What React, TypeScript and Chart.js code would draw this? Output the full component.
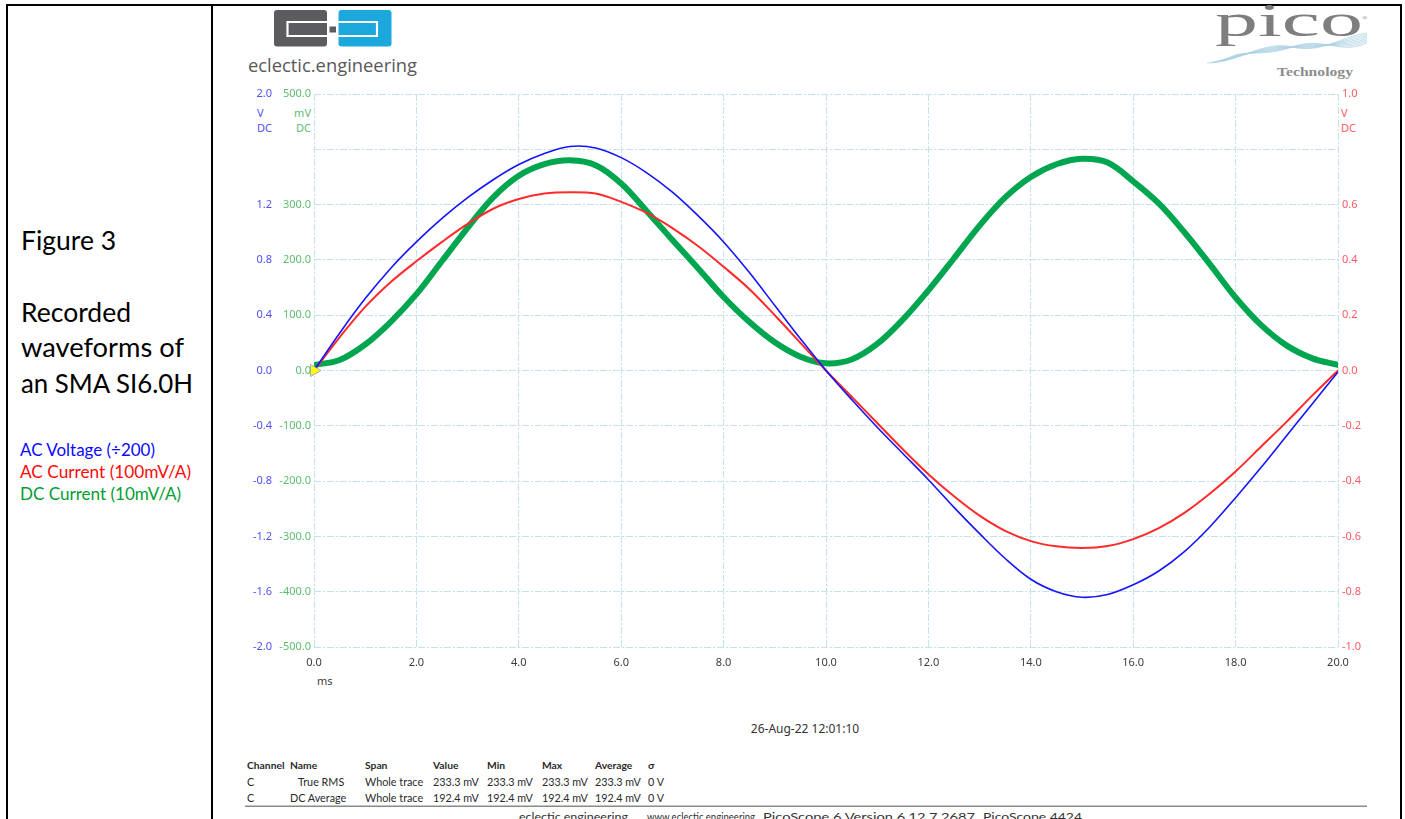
import React, { useEffect, useRef } from 'react';
import { Chart, registerables } from 'chart.js';

Chart.register(...registerables);

// ---- data (time in ms) ----
const timeMs = [0, 0.5, 1, 1.5, 2, 2.5, 3, 3.5, 4, 4.5, 5, 5.5, 6, 6.5, 7, 7.5, 8, 8.5, 9, 9.5, 10,
  10.5, 11, 11.5, 12, 12.5, 13, 13.5, 14, 14.5, 15, 15.5, 16, 16.5, 17, 17.5, 18, 18.5, 19, 19.5, 20];

// AC Voltage (÷200), volts, left outer axis
const acVoltage = [0.0, 0.27, 0.52, 0.74, 0.93, 1.1, 1.25, 1.38, 1.49, 1.57, 1.62, 1.61, 1.54, 1.43, 1.29, 1.12, 0.93, 0.71, 0.47, 0.23, 0.0,
  -0.21, -0.41, -0.6, -0.79, -0.99, -1.18, -1.36, -1.51, -1.6, -1.64, -1.62, -1.55, -1.45, -1.31, -1.13, -0.92, -0.7, -0.47, -0.24, -0.01];

// AC Current (100mV/A), volts, right axis
const acCurrent = [0.0, 0.12, 0.23, 0.32, 0.395, 0.465, 0.53, 0.585, 0.62, 0.64, 0.645, 0.64, 0.61, 0.57, 0.515, 0.45, 0.375, 0.295, 0.2, 0.1, 0.0,
  -0.095, -0.19, -0.285, -0.375, -0.455, -0.525, -0.58, -0.617, -0.636, -0.642, -0.635, -0.61, -0.57, -0.515, -0.445, -0.365, -0.275, -0.185, -0.09, 0.0];

// DC Current (10mV/A), millivolts, left inner axis
const dcCurrent = [10, 19, 47, 88, 138, 198, 258, 313, 352, 373, 380, 371, 338, 288, 236, 185, 133, 88, 51, 25, 13,
  20, 48, 92, 145, 203, 262, 313, 350, 373, 383, 376, 342, 302, 250, 192, 132, 82, 45, 22, 10];

const triggerTime = [0];
const triggerLevel = [0];

// ---- axis ticks ----
const timeTicks = [0, 2, 4, 6, 8, 10, 12, 14, 16, 18, 20];
const voltTicks = [-2.0, -1.6, -1.2, -0.8, -0.4, 0.0, 0.4, 0.8, 1.2, 1.6, 2.0];
const milliVoltTicks = [-500, -400, -300, -200, -100, 0, 100, 200, 300, 400, 500];
const currentTicks = [-1.0, -0.8, -0.6, -0.4, -0.2, 0.0, 0.2, 0.4, 0.6, 0.8, 1.0];
const unlabeledVolt = 1.6;
const unlabeledMilliVolt = 400;
const unlabeledCurrent = 0.8;

// ---- measurement table ----
const tableHeader = ['Channel', 'Name', 'Span', 'Value', 'Min', 'Max', 'Average', 'σ'];
const tableRows = [
  ['C', 'True RMS', 'Whole trace', '233.3 mV', '233.3 mV', '233.3 mV', '233.3 mV', '0 V'],
  ['C', 'DC Average', 'Whole trace', '192.4 mV', '192.4 mV', '192.4 mV', '192.4 mV', '0 V'],
];
const footerItems = ['eclectic.engineering', 'www.eclectic.engineering', 'PicoScope 6 Version 6.12.7.2687', 'PicoScope 4424'];

const BLUE_AXIS = '#5050f6';
const GREEN_AXIS = '#5dbd6e';
const RED_AXIS = '#ff5a64';
const GRID = '#c4e2eb';
const UI_FONT = '"Noto Sans", "Open Sans", sans-serif';
const TABLE_FONT = 'Lato, "Noto Sans", sans-serif';

function ScopeChart() {
  const ref = useRef<HTMLCanvasElement>(null);
  useEffect(() => {
    const canvas = ref.current;
    if (!canvas) return;
    const dash = [7, 2, 2, 2];
    const tickFont = { family: UI_FONT, size: 11 };
    const setTicks = (list: number[]) => (scale: any) => {
      scale.ticks = list.map((v) => ({ value: v }));
    };
    const fmt = (skip: number | null) => (v: any) =>
      skip !== null && Math.abs(Number(v) - skip) < 1e-9 ? '' : Number(v).toFixed(1);
    const pts = (ys: number[]) => timeMs.map((t, i) => ({ x: t, y: ys[i] }));

    const chart = new Chart(canvas, {
      type: 'line',
      data: {
        datasets: [
          {
            label: 'DC Current',
            data: pts(dcCurrent),
            yAxisID: 'yG',
            borderColor: '#00a64f',
            borderWidth: 6,
            pointRadius: 0,
            tension: 0.35,
            borderCapStyle: 'round',
            borderJoinStyle: 'round',
            order: 3,
          },
          {
            label: 'AC Current',
            data: pts(acCurrent),
            yAxisID: 'yR',
            borderColor: '#ff2a2a',
            borderWidth: 2,
            pointRadius: 0,
            tension: 0.35,
            order: 2,
          },
          {
            label: 'AC Voltage',
            data: pts(acVoltage),
            yAxisID: 'yV',
            borderColor: '#1414ff',
            borderWidth: 1.6,
            pointRadius: 0,
            tension: 0.35,
            order: 1,
          },
          {
            label: 'Trigger',
            data: triggerTime.map((t, i) => ({ x: t, y: triggerLevel[i] })),
            yAxisID: 'yV',
            showLine: false,
            pointStyle: 'triangle',
            rotation: 90,
            pointRadius: 7,
            pointBackgroundColor: '#ffff00',
            pointBorderColor: 'rgba(130,130,255,0.7)',
            pointBorderWidth: 1,
            clip: false,
            order: 0,
          } as any,
        ],
      },
      options: {
        responsive: false,
        maintainAspectRatio: false,
        animation: false,
        layout: { padding: { top: 22, bottom: 10, left: 0, right: 0 } },
        plugins: { legend: { display: false }, tooltip: { enabled: false } },
        scales: {
          x: {
            type: 'linear',
            min: 0,
            max: 20,
            afterBuildTicks: setTicks(timeTicks),
            afterFit: (s: any) => { s.height = 30; },
            ticks: { callback: fmt(null), color: '#3c3c3c', font: tickFont, padding: 9, maxRotation: 0, autoSkip: false },
            grid: { color: GRID, lineWidth: 1, drawTicks: false },
            border: { display: false, dash },
          },
          yV: {
            type: 'linear',
            position: 'left',
            weight: 10,
            min: -2,
            max: 2,
            afterBuildTicks: setTicks(voltTicks),
            afterFit: (s: any) => { s.width = 60; },
            ticks: { callback: fmt(unlabeledVolt), color: BLUE_AXIS, font: tickFont, padding: 2, autoSkip: false },
            grid: { color: GRID, lineWidth: 1, drawTicks: false },
            border: { display: false, dash },
          },
          yG: {
            type: 'linear',
            position: 'left',
            weight: 5,
            min: -500,
            max: 500,
            afterBuildTicks: setTicks(milliVoltTicks),
            afterFit: (s: any) => { s.width = 40; },
            ticks: { callback: fmt(unlabeledMilliVolt), color: GREEN_AXIS, font: tickFont, padding: 3, autoSkip: false },
            grid: { display: false, drawTicks: false },
            border: { display: false },
          },
          yR: {
            type: 'linear',
            position: 'right',
            min: -1,
            max: 1,
            afterBuildTicks: setTicks(currentTicks),
            afterFit: (s: any) => { s.width = 49; },
            ticks: { callback: fmt(unlabeledCurrent), color: RED_AXIS, font: tickFont, padding: 4, autoSkip: false },
            grid: { display: false, drawTicks: false },
            border: { display: false },
          },
        },
      } as any,
    });
    return () => chart.destroy();
  }, []);
  return (
    <canvas
      ref={ref}
      width={1173}
      height={615}
      style={{ position: 'absolute', left: 214, top: 72, width: 1173, height: 615 }}
    />
  );
}

const waveLines = [0, 1, 2, 3, 4, 5, 6, 7];

function Overlay() {
  const colX = [247, 290, 365, 433, 487, 542, 595, 648];
  const nameX = [298, 290];
  const footerX = [519, 647, 763, 983];
  const footerW = [109, 108, 212, 99];
  return (
    <svg width={1405} height={819} style={{ position: 'absolute', left: 0, top: 0 }}>
      {/* table borders */}
      <rect x={6} y={4} width={1396} height={2} fill="#000" />
      <rect x={6} y={4} width={2} height={815} fill="#000" />
      <rect x={211} y={4} width={2} height={815} fill="#000" />
      <rect x={1400} y={4} width={2} height={815} fill="#000" />

      {/* left caption */}
      <g fontFamily="Lato, 'Open Sans', sans-serif" fill="#000">
        <text x={21} y={250} fontSize={26.5}>Figure 3</text>
        <text x={21} y={322} fontSize={26.5}>Recorded</text>
        <text x={21} y={357} fontSize={26.5} textLength={163} lengthAdjust="spacingAndGlyphs">waveforms of</text>
        <text x={21} y={393} fontSize={26.5} textLength={172} lengthAdjust="spacingAndGlyphs">an SMA SI6.0H</text>
        <text x={20} y={456} fontSize={17} fill="#0a0aff" textLength={135} lengthAdjust="spacingAndGlyphs">AC Voltage (÷200)</text>
        <text x={20} y={478} fontSize={17} fill="#ff0a0a" textLength={171} lengthAdjust="spacingAndGlyphs">AC Current (100mV/A)</text>
        <text x={20} y={500} fontSize={17} fill="#00a032" textLength={161} lengthAdjust="spacingAndGlyphs">DC Current (10mV/A)</text>
      </g>

      {/* eclectic engineering logo */}
      <rect x={274} y={10} width={53} height={36.5} rx={3} fill="#5b5b60" />
      <path d="M327,22 H287.5 V36 H327" stroke="#fff" strokeWidth={2.2} fill="none" />
      <rect x={329.5} y={26.5} width={6.5} height={6} fill="#5b5b60" />
      <rect x={338.5} y={10} width={53} height={36.5} rx={3} fill="#1aa8dd" />
      <path d="M338.5,22 H377 V36 H338.5" stroke="#fff" strokeWidth={2.2} fill="none" />
      <text x={248} y={72} fontSize={18} fontFamily="'Open Sans', sans-serif" fill="#59595c" textLength={169} lengthAdjust="spacingAndGlyphs">eclectic.engineering</text>

      {/* pico technology logo */}
      <g stroke="#a9d0e2" strokeWidth={0.7} fill="none">
        {waveLines.map((i) => (
          <path
            key={i}
            d={`M${1207 + i * 3},${63 - i * 0.5} C${1240},${63 - i * 2.2} ${1262},${40 + i * 2.6} ${1292},${47} S${1342},${36 + i * 2.8} ${1367},${33 + i * 1.4}`}
          />
        ))}
      </g>
      <text x={1215} y={36} fontSize={46} fontFamily="'Liberation Serif', 'DejaVu Serif', serif" fill="#7e7e7e" textLength={148} lengthAdjust="spacingAndGlyphs">pico</text>
      <text x={1362} y={20} fontSize={7} fontFamily="'Liberation Serif', serif" fill="#7e7e7e">®</text>
      <text x={1277} y={76} fontSize={13} fontWeight="bold" fontFamily="'Liberation Serif', 'DejaVu Serif', serif" fill="#8c8c8c" textLength={76} lengthAdjust="spacingAndGlyphs">Technology</text>

      {/* axis unit labels */}
      <g fontFamily={UI_FONT} fontSize={11}>
        <text x={257} y={117} fill={BLUE_AXIS}>V</text>
        <text x={257} y={132} fill={BLUE_AXIS}>DC</text>
        <text x={311} y={117} fill={GREEN_AXIS} textAnchor="end">mV</text>
        <text x={311} y={132} fill={GREEN_AXIS} textAnchor="end">DC</text>
        <text x={1341} y={117} fill={RED_AXIS}>V</text>
        <text x={1341} y={132} fill={RED_AXIS}>DC</text>
        <text x={317} y={685} fill="#3c3c3c">ms</text>
      </g>

      {/* date */}
      <text x={805} y={733} fontSize={12} fontFamily={UI_FONT} fill="#333" textAnchor="middle">26-Aug-22 12:01:10</text>

      {/* measurements table */}
      <g fontFamily={TABLE_FONT} fill="#2a2a2a">
        {tableHeader.map((h, j) => (
          <text key={'h' + j} x={colX[j]} y={769} fontSize={10.3} fontWeight="bold">{h}</text>
        ))}
        {tableRows.map((row, r) =>
          row.map((c, j) => (
            <text key={r + '-' + j} x={j === 1 ? nameX[r] : colX[j]} y={785.5 + r * 16.5} fontSize={10.8}>{c}</text>
          ))
        )}
      </g>
      <rect x={245} y={805.5} width={1122} height={1.5} fill="#8a8a8a" />
      <g fontFamily={TABLE_FONT} fontSize={12} fill="#333">
        {footerItems.map((f, i) => (
          <text key={f} x={footerX[i]} y={821} textLength={footerW[i]} lengthAdjust="spacingAndGlyphs">{f}</text>
        ))}
      </g>
    </svg>
  );
}

export default function App() {
  return (
    <div
      style={{
        position: 'fixed',
        left: 0,
        top: 0,
        width: 1405,
        height: 819,
        overflow: 'hidden',
        background: '#fff',
      }}
    >
      <Overlay />
      <ScopeChart />
    </div>
  );
}
